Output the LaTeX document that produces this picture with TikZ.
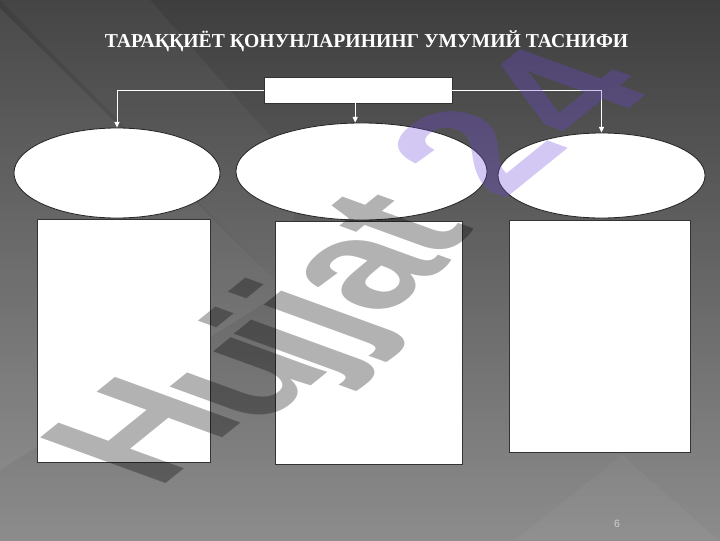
\documentclass[tikz,border=0pt]{standalone}
\usepackage{fontspec}
\setmainfont{Liberation Serif}
\newfontfamily\wmfont{Liberation Sans}
\usetikzlibrary{arrows.meta,shapes.geometric,shadows}
\definecolor{bgtop}{HTML}{3E3E3E}
\definecolor{bgmid}{HTML}{575757}
\definecolor{bgbot}{HTML}{8C8C8C}
\definecolor{wmpurple}{RGB}{110,70,220}
\begin{document}
\begin{tikzpicture}[x=0.025cm,y=-0.025cm,
  boxw/.style={rectangle,draw=black!80,line width=0.5pt,fill=white,inner sep=0pt,
    drop shadow={shadow xshift=0.8pt,shadow yshift=-0.8pt,opacity=0.45}},
  ellw/.style={ellipse,draw=black!85,line width=0.6pt,fill=white,inner sep=0pt},
  conn/.style={draw=white,line width=0.7pt,-{Triangle[length=4pt,width=3.6pt]}},
  titletext/.style={text=white,font=\bfseries\fontsize{14}{16}\selectfont,inner sep=0pt},
  pagenum/.style={text=black!18,font=\wmfont\fontsize{7.5}{9}\selectfont,inner sep=0pt},
  wmletter/.style={cm={0.906,0.733,-1.297,0.472,(0,0)},transform shape,anchor=center,
    inner sep=0pt,outer sep=0pt,text opacity=0.3,
    font=\wmfont\bfseries\fontsize{100}{100}\selectfont},
  wmgray/.style={wmletter,text=black},
  wmviolet/.style={wmletter,text=wmpurple}]
% background
\useasboundingbox (0,0) rectangle (720,540);
\shade[top color=bgtop,middle color=bgmid,bottom color=bgbot] (0,0) rectangle (720,540);
\fill[white,opacity=0.06] (0,8) -- (285,290) -- (0,470) -- cycle;
\fill[white,opacity=0.04] (0,0) -- (150,0) -- (300,170) -- (285,290) -- cycle;
\fill[white,opacity=0.04] (622,455) -- (515,540) -- (718,540) -- cycle;
% title
\node[titletext,anchor=base] (title) at (366.5,47) {ТАРАҚҚИЁТ ҚОНУНЛАРИНИНГ УМУМИЙ ТАСНИФИ};
% top box
\node[boxw,minimum width=4.7cm,minimum height=0.65cm] (top) at (358,90) {};
% ellipses
\node[ellw,minimum width=5.15cm,minimum height=2.25cm] (e1) at (117,173) {};
\node[ellw,minimum width=6.275cm,minimum height=2.425cm] (e2) at (361.5,171.5) {};
\node[ellw,minimum width=5.175cm,minimum height=2.125cm] (e3) at (601.5,175.5) {};
% rectangles
\node[boxw,minimum width=4.325cm,minimum height=6.075cm] (r1) at (123.5,340.5) {};
\node[boxw,minimum width=4.675cm,minimum height=6.075cm] (r2) at (368.5,342.5) {};
\node[boxw,minimum width=4.525cm,minimum height=5.8cm] (r3) at (599.5,336) {};
% connectors
\draw[conn] (top.west) -| (e1.north);
\draw[conn] (top.east) -| (e3.north);
\draw[conn] ([xshift=-2pt]top.south) -- ([xshift=-2pt]top.south |- e2.north);
% page number
\node[pagenum] (pg) at (617,524) {6};
% watermark
\node[wmgray] (wH) at (141,430) {H};
\node[wmgray] (wu) at (250,380) {u};
\node[wmgray] (wj1) at (292,345) {j};
\node[wmgray] (wj2) at (322,316) {j};
\node[wmgray] (wa) at (369,272) {a};
\node[wmgray] (wt) at (397,224) {t};
\node[wmviolet] (w2) at (474,150) {2};
\node[wmviolet] (w4) at (560,91) {4};
\end{tikzpicture}
\end{document}
